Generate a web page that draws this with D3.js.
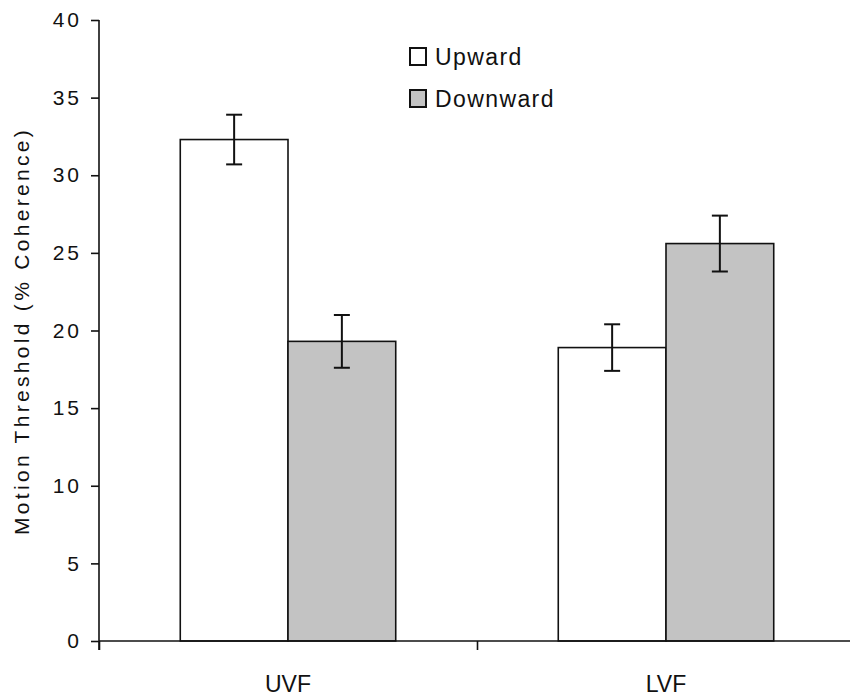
<!DOCTYPE html>
<html>
<head>
<meta charset="utf-8">
<script src="https://cdn.jsdelivr.net/npm/d3@7"></script>
<style>
  body { margin: 0; background: #fff; }
  svg { display: block; font-family: "Liberation Sans", Arial, sans-serif; }
</style>
</head>
<body>
<div id="chart"></div>
<script>
// data
var fields = ["UVF", "LVF"];
var directions = ["Upward", "Downward"];
var means = [[32.3, 19.3], [18.9, 25.6]];   // [field][direction]
var errors = [[1.6, 1.7], [1.5, 1.8]];
var yTicks = [0, 5, 10, 15, 20, 25, 30, 35, 40];
var fills = ["#ffffff", "#c3c3c3"];

var config = {
  "width": 850,
  "height": 697
};

window.addEventListener("DOMContentLoaded", main);

function main() {
  var svg = d3.select("#chart")
    .append("svg")
    .attr("width", config.width)
    .attr("height", config.height);

  var left = 99, right = 855, top = 20, bottom = 641;

  var y = d3.scaleLinear().domain([0, 40]).range([bottom, top]);

  // category bands
  var x0 = d3.scaleBand()
    .domain(fields)
    .range([left, right])
    .paddingInner(0.43)
    .paddingOuter(0.215);

  var x1 = d3.scaleBand()
    .domain(directions)
    .range([0, x0.bandwidth()]);

  // boundaries between categories, for the x axis ticks
  var xb = d3.scaleLinear().domain([0, fields.length]).range([left, right]);

  // bars
  var rows = [];
  fields.forEach(function(f, i) {
    directions.forEach(function(d, j) {
      rows.push({ field: f, dir: d, value: means[i][j], err: errors[i][j], fill: fills[j] });
    });
  });

  var g = svg.append("g");

  g.selectAll("rect.bar")
    .data(rows)
    .enter()
    .append("rect")
    .attr("class", "bar")
    .attr("x", function(d) { return x0(d.field) + x1(d.dir); })
    .attr("y", function(d) { return y(d.value); })
    .attr("width", x1.bandwidth())
    .attr("height", function(d) { return y(0) - y(d.value); })
    .style("fill", function(d) { return d.fill; })
    .style("stroke", "#111")
    .style("stroke-width", 1.6);

  // error bars
  var eb = g.selectAll("g.err")
    .data(rows)
    .enter()
    .append("g")
    .attr("class", "err")
    .attr("transform", function(d) {
      return "translate(" + (x0(d.field) + x1(d.dir) + x1.bandwidth() / 2) + ",0)";
    })
    .style("stroke", "#111")
    .style("stroke-width", 2);

  eb.append("line")
    .attr("y1", function(d) { return y(d.value + d.err); })
    .attr("y2", function(d) { return y(d.value - d.err); });
  eb.append("line")
    .attr("x1", -8).attr("x2", 8)
    .attr("y1", function(d) { return y(d.value + d.err); })
    .attr("y2", function(d) { return y(d.value + d.err); });
  eb.append("line")
    .attr("x1", -8).attr("x2", 8)
    .attr("y1", function(d) { return y(d.value - d.err); })
    .attr("y2", function(d) { return y(d.value - d.err); });

  // y axis
  var yAxis = svg.append("g")
    .attr("transform", "translate(" + left + ",0)")
    .call(d3.axisLeft(y).tickValues(yTicks).tickSize(8).tickPadding(9));
  yAxis.select(".domain").attr("d", "M0," + top + "V" + (bottom + 9))
    .style("stroke", "#111").style("stroke-width", 1.6);
  yAxis.selectAll(".tick line").style("stroke", "#111").style("stroke-width", 1.6);
  yAxis.selectAll(".tick text")
    .style("font-size", "21px")
    .style("letter-spacing", "3px")
    .style("fill", "#111")
    .attr("font-family", null);

  // x axis: ticks at category boundaries
  var xAxis = svg.append("g")
    .attr("transform", "translate(0," + bottom + ")")
    .call(d3.axisBottom(xb).tickValues([0, 1, 2]).tickSize(9).tickFormat(""));
  xAxis.select(".domain").attr("d", "M" + left + ",0H" + config.width)
    .style("stroke", "#111").style("stroke-width", 1.6);
  xAxis.selectAll(".tick line").style("stroke", "#111").style("stroke-width", 1.6);

  // category labels
  svg.selectAll("text.cat")
    .data(fields)
    .enter()
    .append("text")
    .attr("class", "cat")
    .attr("x", function(d) { return x0(d) + x0.bandwidth() / 2; })
    .attr("y", 692)
    .attr("text-anchor", "middle")
    .style("font-size", "23px")
    .style("fill", "#111")
    .text(function(d) { return d; });

  // y axis title
  svg.append("text")
    .attr("transform", "translate(29,331) rotate(-90)")
    .attr("text-anchor", "middle")
    .style("font-size", "21px")
    .style("letter-spacing", "3.3px")
    .style("fill", "#111")
    .text("Motion Threshold (% Coherence)");

  // legend
  var legend = svg.selectAll("g.legend")
    .data(directions)
    .enter()
    .append("g")
    .attr("class", "legend")
    .attr("transform", function(d, i) { return "translate(410," + (48 + i * 42) + ")"; });

  legend.append("rect")
    .attr("width", 16)
    .attr("height", 17)
    .style("fill", function(d, i) { return fills[i]; })
    .style("stroke", "#111")
    .style("stroke-width", 2);

  legend.append("text")
    .attr("x", 25)
    .attr("y", 17)
    .style("font-size", "23px")
    .style("letter-spacing", "1.4px")
    .style("fill", "#111")
    .text(function(d) { return d; });
}
</script>
</body>
</html>
